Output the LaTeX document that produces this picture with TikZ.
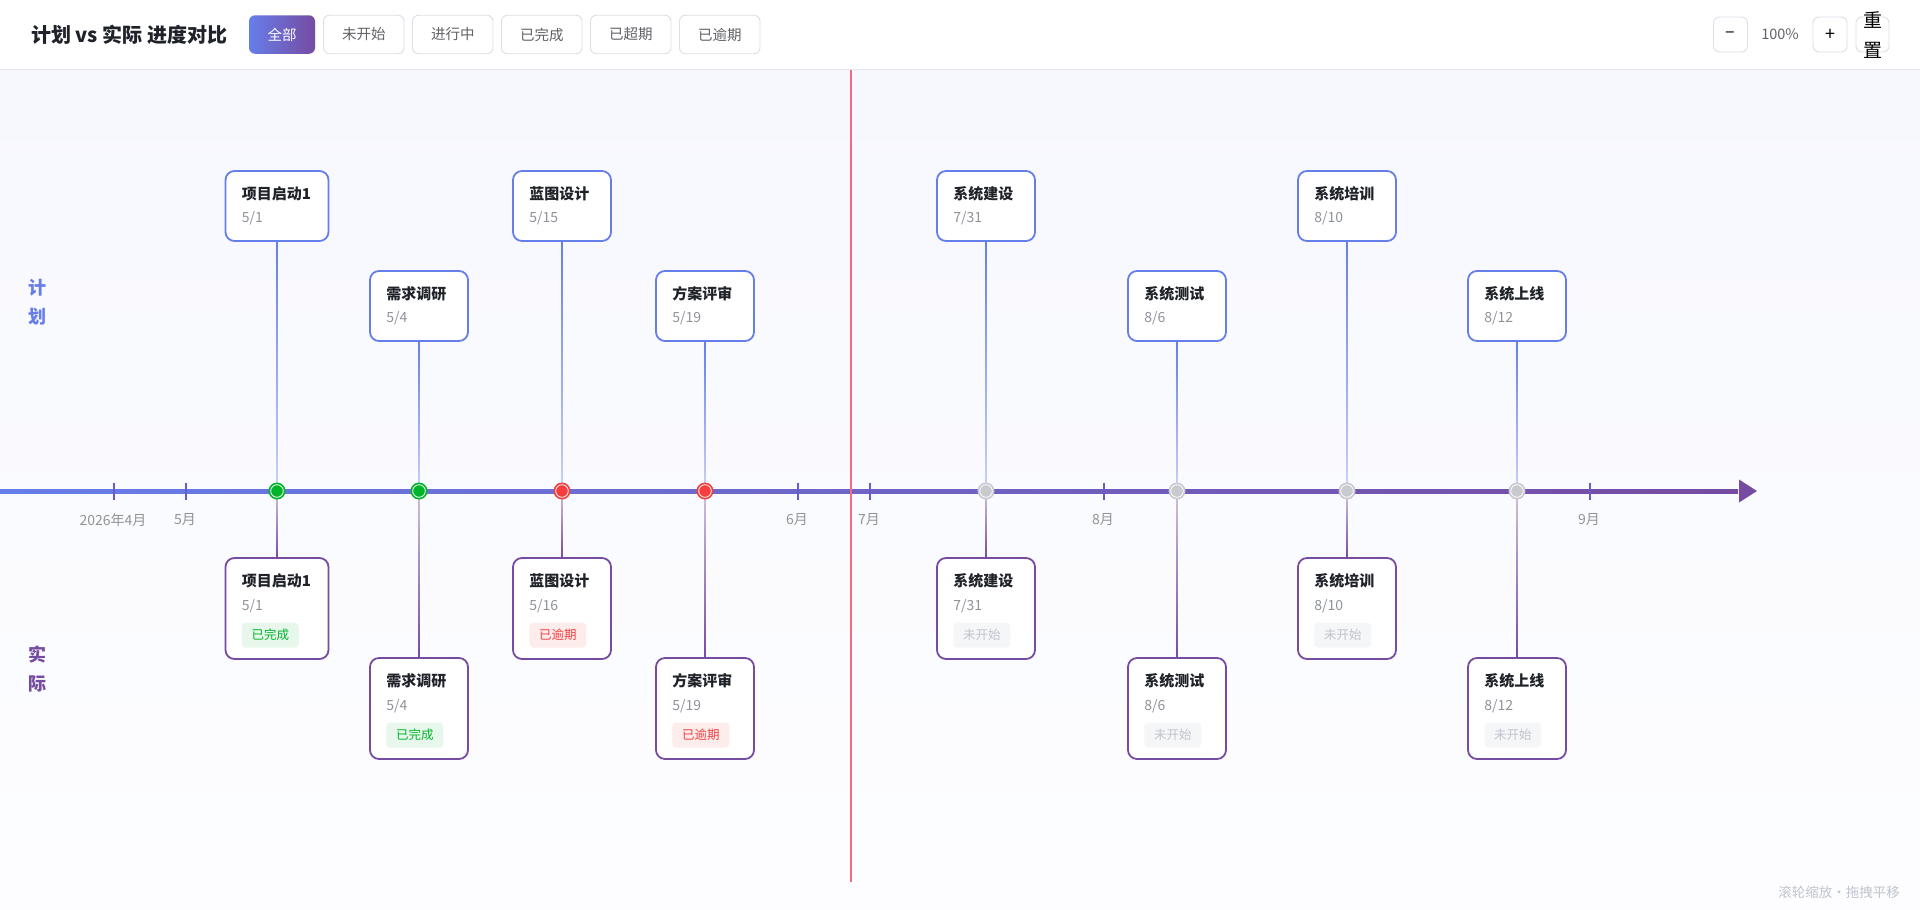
\documentclass[tikz,border=0pt]{standalone}
\usepackage{fontspec}
\setmainfont{Noto Sans CJK SC}
\usetikzlibrary{positioning,calc}
\definecolor{planc}{HTML}{667EEA}
\definecolor{actc}{HTML}{764BA2}
\definecolor{ink}{HTML}{1F2329}
\definecolor{datec}{HTML}{8F9399}
\definecolor{donec}{HTML}{00B42A}
\definecolor{donebg}{HTML}{E8F7EC}
\definecolor{latec}{HTML}{F53F3F}
\definecolor{latebg}{HTML}{FDECEC}
\definecolor{todoc}{HTML}{C0C4CC}
\definecolor{todobg}{HTML}{F5F6F8}
\definecolor{dotgray}{HTML}{C9CACF}
\definecolor{linec}{HTML}{E4E7ED}
\definecolor{btnc}{HTML}{DCDFE6}
\definecolor{btntext}{HTML}{606266}
\definecolor{nowc}{HTML}{F26B7E}
\definecolor{bgtop}{HTML}{F7F8FE}
\definecolor{tickc}{HTML}{6A5ACD}
\definecolor{axislabel}{HTML}{909399}

% planned box: [options]{name}{x}{y}{title}{date}
\newcommand\planbox[6][]{%
  \node[plan,#1] (#2) at (#3,#4) {};
  \node[ttl] (#2t) at ($(#2.north west)+(17,24)$) {#5};
  \node[day] (#2d) at ($(#2.north west)+(17,48)$) {#6};
}
% actual box: [options]{name}{x}{y}{title}{date}{status style}{status}
\newcommand\actbox[8][]{%
  \node[act,#1] (#2) at (#3,#4) {};
  \node[ttl] (#2t) at ($(#2.north west)+(17,24)$) {#5};
  \node[day] (#2d) at ($(#2.north west)+(17,49)$) {#6};
  \node[#7] (#2s) at ($(#2.north west)+(17,78)$) {#8};
}

\begin{document}
\begin{tikzpicture}[x=1pt, y=-1pt,
  plan/.style = {draw=planc, line width=1.8pt, rounded corners=9pt, fill=white, minimum width=98pt, minimum height=70pt, inner sep=0pt},
  act/.style = {draw=actc, line width=1.8pt, rounded corners=9pt, fill=white, minimum width=98pt, minimum height=101pt, inner sep=0pt},
  ttl/.style = {anchor=west, inner sep=0pt, text=ink, font=\fontsize{15}{18}\selectfont\bfseries},
  day/.style = {anchor=west, inner sep=0pt, text=datec, font=\fontsize{14}{17}\selectfont},
  badge/.style = {anchor=west, inner sep=0pt, rounded corners=4pt, minimum width=57pt, minimum height=25pt, font=\fontsize{12.5}{15}\selectfont},
  done/.style = {badge, fill=donebg, text=donec},
  late/.style = {badge, fill=latebg, text=latec},
  todo/.style = {badge, fill=todobg, text=todoc},
  dot/.style = {circle, inner sep=0pt, minimum size=17pt},
  btn/.style = {draw=btnc, line width=0.9pt, rounded corners=6pt, fill=white, text=btntext, minimum width=80.5pt, minimum height=38.5pt, inner sep=0pt, font=\fontsize{14.5}{17}\selectfont},
  tool/.style = {btn, minimum width=34pt, minimum height=35pt, text=black},
  side/.style = {align=center, inner sep=0pt, font=\fontsize{18}{29}\selectfont\bfseries},
  month/.style = {inner sep=0pt, text=axislabel, font=\fontsize{14}{17}\selectfont}]

\useasboundingbox (0,0) rectangle (1920,910);
% header and canvas
\fill[white] (0,0) rectangle (1920,70);
\shade[top color=bgtop, bottom color=white!75!bgtop] (0,70) rectangle (1920,910);
\draw[linec, line width=1.2pt] (0,69.5) -- (1920,69.5);

\node[anchor=west, inner sep=0pt, text=ink, font=\fontsize{20}{24}\selectfont\bfseries] (title) at (31,35) {计划 vs 实际 进度对比};
\node[btn, draw=none, left color=planc, right color=actc, text=white, minimum width=66pt] (all) at (282,34.5) {全部};
\node[btn, right=7.6pt of all] (notyet) {未开始};
\node[btn, right=7.6pt of notyet] (doing) {进行中};
\node[btn, right=7.6pt of doing] (finished) {已完成};
\node[btn, right=7.6pt of finished] (overdue) {已超期};
\node[btn, right=7.6pt of overdue] (delayed) {已逾期};

\node[tool, font=\fontsize{18}{20}\selectfont] (zoomout) at (1730.5,34.5) {–};
\node[inner sep=0pt, text=btntext, font=\fontsize{14.5}{17}\selectfont] (zoomval) at (1780,34.5) {100\%};
\node[tool, font=\fontsize{18}{20}\selectfont] (zoomin) at (1830,34.5) {+};
\node[tool, minimum width=33pt] (resetbtn) at (1872.5,34.5) {};
\node[align=center, inner sep=0pt, font=\fontsize{19}{30}\selectfont] (reset) at (1873,35) {重\\置};

% side labels
\node[side, text=planc] (planlbl) at (37,302) {计\\划};
\node[side, text=actc] (actlbl) at (37,669) {实\\际};

% time axis
\shade[left color=planc, right color=actc] (0,489.5) rectangle (1738,493);
\fill[actc] (1739,479.5) -- (1757,491) -- (1739,502.5) -- cycle;
\foreach \x/\t in {114/2026年4月, 186/5月, 798/6月, 870/7月, 1104/8月, 1590/9月} {
  \draw[tickc, line width=2pt] (\x,482.5) -- (\x,499.5);
  \node[month] (m\x) at (\x-1,520) {\t};
}

% today line
\draw[nowc, line width=2.6pt] (851,70) -- (851,882);

% event positions
\coordinate (e1) at (277,491);
\coordinate (e2) at (419,491);
\coordinate (e3) at (562,491);
\coordinate (e4) at (705,491);
\coordinate (e5) at (986,491);
\coordinate (e6) at (1177,491);
\coordinate (e7) at (1347,491);
\coordinate (e8) at (1517,491);

% planned
\planbox[minimum width=103pt]{p1}{277}{206}{项目启动1}{5/1}
\planbox{p2}{419}{306}{需求调研}{5/4}
\planbox{p3}{562}{206}{蓝图设计}{5/15}
\planbox{p4}{705}{306}{方案评审}{5/19}
\planbox{p5}{986}{206}{系统建设}{7/31}
\planbox{p6}{1177}{306}{系统测试}{8/6}
\planbox{p7}{1347}{206}{系统培训}{8/10}
\planbox{p8}{1517}{306}{系统上线}{8/12}

% actual
\actbox[minimum width=103pt]{a1}{277}{608.5}{项目启动1}{5/1}{done}{已完成}
\actbox{a2}{419}{708.5}{需求调研}{5/4}{done}{已完成}
\actbox{a3}{562}{608.5}{蓝图设计}{5/16}{late}{已逾期}
\actbox{a4}{705}{708.5}{方案评审}{5/19}{late}{已逾期}
\actbox{a5}{986}{608.5}{系统建设}{7/31}{todo}{未开始}
\actbox{a6}{1177}{708.5}{系统测试}{8/6}{todo}{未开始}
\actbox{a7}{1347}{608.5}{系统培训}{8/10}{todo}{未开始}
\actbox{a8}{1517}{708.5}{系统上线}{8/12}{todo}{未开始}

% connectors
\foreach \i in {1,...,8} {
  \shade[top color=planc, bottom color=planc!35] ($(p\i.south)+(-0.9,-0.9)$) rectangle ($(e\i)+(0.9,0)$);
  \shade[top color=actc!35, bottom color=actc] ($(e\i)+(-0.9,0)$) rectangle ($(a\i.north)+(0.9,0.9)$);
}

% markers
\foreach \i/\c in {1/donec, 2/donec, 3/latec, 4/latec, 5/dotgray, 6/dotgray, 7/dotgray, 8/dotgray} {
  \node[dot, fill=\c] (d\i) at (e\i) {};
  \draw[white, line width=0.8pt] (d\i.center) circle (6.3pt);
}

\node[anchor=east, inner sep=0pt, text=todoc, font=\fontsize{13.5}{16}\selectfont] (hint) at (1900,892) {滚轮缩放·拖拽平移};
\end{tikzpicture}
\end{document}
